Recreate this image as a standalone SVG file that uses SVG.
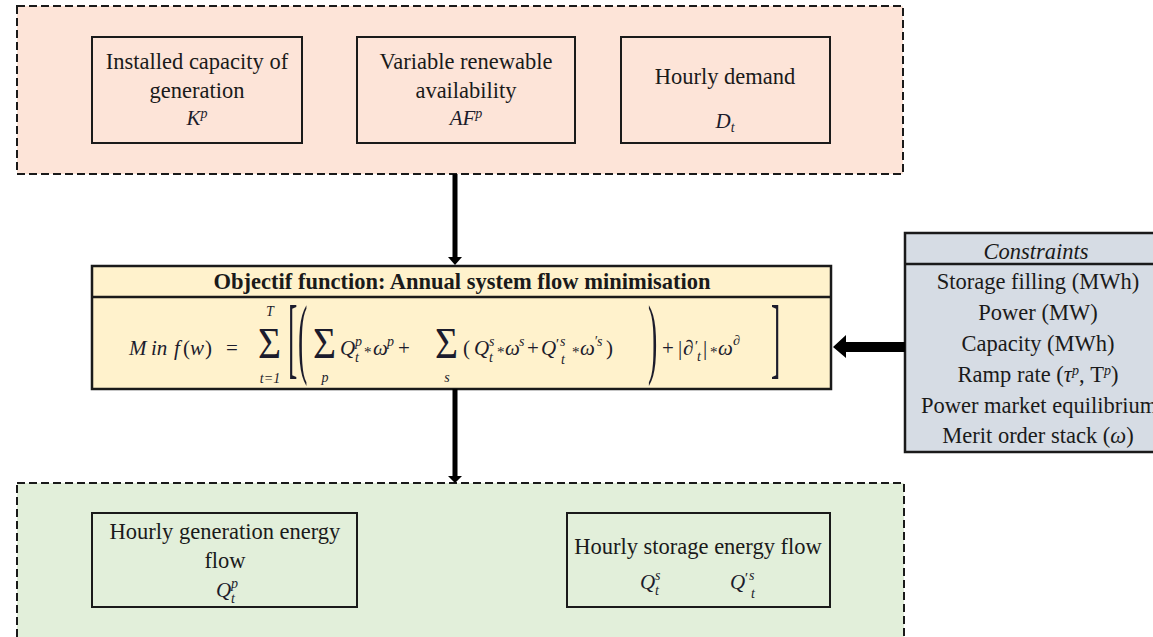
<svg xmlns="http://www.w3.org/2000/svg" width="1153" height="637" viewBox="0 0 1153 637">
<style>
.t{font-family:"Liberation Serif","Times New Roman",serif;font-size:22.5px;fill:#1a1a1a}
.c{text-anchor:middle}
.m{font-family:"Liberation Serif","Times New Roman",serif;font-style:italic;font-size:21px;fill:#1c1c2c}
.n{font-family:"Liberation Serif","Times New Roman",serif;font-size:21px;fill:#1c1c2c}
.s{font-size:14px}
.big{font-size:36px}
.br{font-size:28px}
.op{font-size:15px}
.box{fill:none;stroke:#1a1a1a;stroke-width:2}
.dash{stroke:#1a1a1a;stroke-width:2;stroke-dasharray:8 4}
.solid{stroke:#1a1a1a;stroke-width:2.5}
.arr{fill:#000;stroke:none}
</style>
<rect width="1153" height="637" fill="#ffffff"/>

<g id="inputs">
  <rect x="17" y="6" width="886" height="168" fill="#fde4d8" class="dash"/>
  <g id="capacity">
    <rect x="92" y="37" width="210" height="106" class="box"/>
    <text class="t c" x="197" y="69">Installed capacity of</text>
    <text class="t c" x="197" y="98">generation</text>
    <text class="m c" x="197" y="125">K<tspan class="s" dy="-7">p</tspan></text>
  </g>
  <g id="availability">
    <rect x="357" y="37" width="218" height="106" class="box"/>
    <text class="t c" x="466" y="69">Variable renewable</text>
    <text class="t c" x="466" y="98">availability</text>
    <text class="m c" x="466" y="125">AF<tspan class="s" dy="-7">p</tspan></text>
  </g>
  <g id="demand">
    <rect x="621" y="37" width="209" height="106" class="box"/>
    <text class="t c" x="725" y="84">Hourly demand</text>
    <text class="m c" x="725" y="128">D<tspan class="s" dy="4">t</tspan></text>
  </g>
</g>

<g id="objective">
  <rect x="92" y="266" width="739" height="123" fill="#fff2cc" class="solid"/>
  <line x1="92" y1="297" x2="831" y2="297" class="solid"/>
  <text class="t c" x="462" y="289" font-weight="bold">Objectif function: Annual system flow minimisation</text>
  <text class="m" x="129" y="355">M</text>
  <text class="m" x="151" y="355">in</text>
  <text class="m" x="174" y="355">f</text>
  <text class="n" x="183" y="355">(</text>
  <text class="m" x="190" y="355">w</text>
  <text class="n" x="205" y="355">)</text>
  <text class="n" x="226" y="355">=</text>
  <text class="n big" transform="translate(258,358) scale(1.1,1.22)">Σ</text>
  <text class="m s c" x="270" y="316">T</text>
  <text class="m s c" x="270" y="383">t=1</text>
  <text class="n br" transform="translate(288,367) scale(1,3.2)">[</text>
  <text class="n br" transform="translate(298,367) scale(1,3.2)">(</text>
  <text class="n big" transform="translate(313,358) scale(1.1,1.22)">Σ</text>
  <text class="m s c" x="325" y="382">p</text>
  <text class="m" x="340" y="355">Q</text>
  <text class="m s" x="355" y="346">p</text>
  <text class="m s" x="355" y="362">t</text>
  <text class="n op" x="364" y="357">*</text>
  <text class="m" x="373" y="355">ω</text>
  <text class="m s" x="387" y="346">p</text>
  <text class="n" x="398" y="355">+</text>
  <text class="n big" transform="translate(435,358) scale(1.1,1.22)">Σ</text>
  <text class="m s c" x="447" y="382">s</text>
  <text class="n" x="463" y="355">(</text>
  <text class="m" x="474" y="355">Q</text>
  <text class="m s" x="489" y="346">s</text>
  <text class="m s" x="489" y="362">t</text>
  <text class="n op" x="497" y="357">*</text>
  <text class="m" x="505" y="355">ω</text>
  <text class="m s" x="519" y="346">s</text>
  <text class="n" x="527" y="355">+</text>
  <text class="m" x="541" y="355">Q</text>
  <text class="m op" x="555" y="349">′</text>
  <text class="m s" x="560" y="346">s</text>
  <text class="m s" x="561" y="364">t</text>
  <text class="n op" x="572" y="357">*</text>
  <text class="m" x="580" y="355">ω</text>
  <text class="m s" x="594" y="346">′s</text>
  <text class="n" x="606" y="355">)</text>
  <text class="n br" transform="translate(648,367) scale(1,3.2)">)</text>
  <text class="n" x="662" y="355">+</text>
  <text class="n" x="678" y="355">|</text>
  <text class="m" x="683" y="355">∂</text>
  <text class="m op" x="694" y="351">′</text>
  <text class="m s" x="697" y="361">t</text>
  <text class="n" x="703" y="355">|</text>
  <text class="n op" x="710" y="357">*</text>
  <text class="m" x="718" y="355">ω</text>
  <text class="m s" x="733" y="345">∂</text>
  <text class="n br" transform="translate(771,367) scale(1,3.2)">]</text>
</g>

<g id="constraints">
  <rect x="905" y="233" width="260" height="219" fill="#d6dce4" class="solid"/>
  <line x1="905" y1="264" x2="1165" y2="264" class="solid"/>
  <text class="t c" x="1036" y="259" font-style="italic">Constraints</text>
  <text class="t c" x="1038" y="289">Storage filling (MWh)</text>
  <text class="t c" x="1038" y="320">Power (MW)</text>
  <text class="t c" x="1038" y="351">Capacity (MWh)</text>
  <text class="t c" x="1038" y="382">Ramp rate (<tspan font-style="italic">τ</tspan><tspan class="s" font-style="italic" dy="-7">p</tspan><tspan dy="7">, Τ</tspan><tspan class="s" font-style="italic" dy="-7">p</tspan><tspan dy="7">)</tspan></text>
  <text class="t" x="921" y="413">Power market equilibrium</text>
  <text class="t c" x="1038" y="443">Merit order stack (<tspan font-style="italic">ω</tspan>)</text>
</g>

<g id="outputs">
  <rect x="17" y="483" width="887" height="180" fill="#e2efda" class="dash"/>
  <g id="generation-flow">
    <rect x="92" y="513" width="265" height="94" class="box"/>
    <text class="t c" x="225" y="539">Hourly generation energy</text>
    <text class="t c" x="225" y="568">flow</text>
    <text class="m" x="216" y="597">Q</text>
    <text class="m s" x="231" y="588">p</text>
    <text class="m s" x="231" y="603">t</text>
  </g>
  <g id="storage-flow">
    <rect x="567" y="513" width="263" height="94" class="box"/>
    <text class="t c" x="698" y="554">Hourly storage energy flow</text>
    <text class="m" x="640" y="589">Q</text>
    <text class="m s" x="655" y="580">s</text>
    <text class="m s" x="655" y="595">t</text>
    <text class="m" x="730" y="589">Q</text>
    <text class="m op" x="744" y="583">′</text>
    <text class="m s" x="749" y="580">s</text>
    <text class="m s" x="751" y="598">t</text>
  </g>
</g>

<g id="connectors">
  <path class="arr" d="M452.5,174 H457.5 V257 H462 L455,265 L448,257 H452.5 Z"/>
  <path class="arr" d="M452.5,389 H457.5 V476 H462 L455,483 L448,476 H452.5 Z"/>
  <path class="arr" d="M905,342 V352 H846 V358 L833,347 L846,335 V342 Z"/>
</g>
</svg>
